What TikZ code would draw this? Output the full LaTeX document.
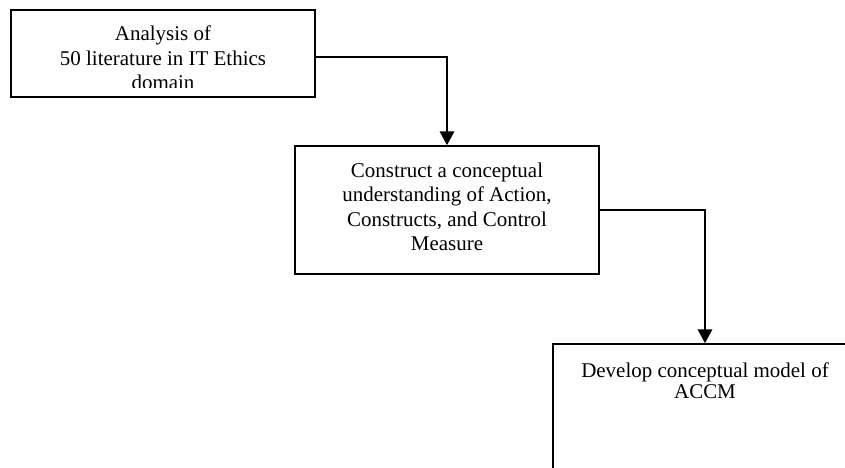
\documentclass[tikz,border=0pt]{standalone}
\usepackage{fontspec}
\setmainfont{Liberation Serif}
\usetikzlibrary{arrows.meta}

\begin{document}
\begin{tikzpicture}[x=0.62pt,y=-0.62pt,
stepbox/.style={draw,line width=1pt,rectangle,minimum width=188.5pt,inner sep=0pt},
steptext/.style={align=center,inner sep=0pt,font=\fontsize{13}{15.2}\selectfont},
arr/.style={line width=0.8pt,-{Triangle[length=8.5pt,width=9pt]}}]
\useasboundingbox (0,0) rectangle (845,467);
\clip (0,0) rectangle (845,467);

\node (analysis) [stepbox,minimum height=53.9pt] at (163,53.5) {};
\node (construct) [stepbox,minimum height=79.4pt] at (447,210) {};
\node (develop) [stepbox,minimum height=79.4pt] at (705,408) {};

% last line of the first box is cut off
\begin{scope}
\clip (analysis.north west) rectangle (845,87.6);
\node (analysistext) [steptext] at (163,58) {Analysis of\\50 literature in IT Ethics\\domain};
\end{scope}
\node (constructtext) [steptext] at (447,207) {Construct a conceptual\\understanding of Action,\\Constructs, and Control\\Measure};
\node (developtext) [steptext,font=\fontsize{13}{13.2}\selectfont] at (705,381) {Develop conceptual model of\\ACCM};

\draw[arr] ([yshift=-2.2pt]analysis.east) -| (construct.north);
\draw[arr] (construct.east) -| (develop.north);
\end{tikzpicture}
\end{document}
